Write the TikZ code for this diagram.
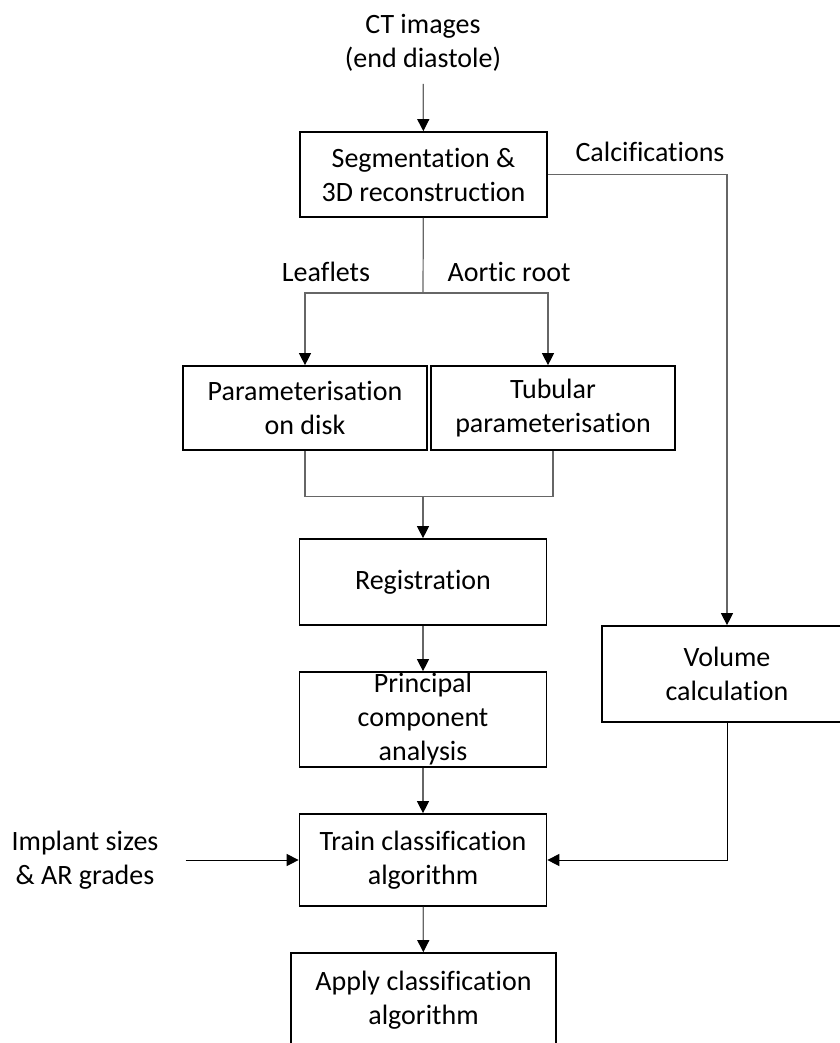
\documentclass[tikz,border=0pt]{standalone}
\usepackage{fontspec}
\setmainfont[Ligatures=NoCommon]{Carlito}
\usetikzlibrary{arrows.meta}

\begin{document}
\begin{tikzpicture}[x=1pt, y=-1pt,
        font=\fontsize{28}{34}\selectfont,
        box/.style={draw=black, line width=1.7pt, align=center, inner sep=0pt,
            minimum width=247pt, minimum height=85pt},
        lbl/.style={align=center, inner sep=0pt},
        line/.style={draw=black!60, line width=1.2pt},
        arr/.style={line, -{Triangle[length=12pt, width=12pt, color=black]}}]

        \useasboundingbox (0,0) rectangle (839,1043);

        \node[lbl] (ct) at (423,43) {CT images\\(end diastole)};
        \node[box] (seg) at (423.5,174.5) {Segmentation \&\\3D reconstruction};
        \node[lbl] (calc) at (650,152) {Calcifications};
        \node[lbl] (leaf) at (326,272) {Leaflets};
        \node[lbl] (root) at (509,272) {Aortic root};
        \node[box, minimum width=244pt, minimum height=84pt] (param) at (305,408) {Parameterisation\\on disk};
        \node[box, minimum width=244pt, minimum height=84pt] (tub) at (553,408) {Tubular\\parameterisation};
        \node[box, minimum height=86pt] (reg) at (423,582) {Registration};
        \node[box, minimum height=95pt] (pca) at (423,719.5) {Principal\\component\\analysis};
        \node[box, minimum width=250pt, minimum height=96pt] (vol) at (727,674) {Volume\\calculation};
        \node[box, minimum height=92pt] (train) at (423,860) {Train classification\\algorithm};
        \node[box, minimum width=265pt, minimum height=94pt] (apply) at (423.5,1000) {Apply classification\\algorithm};
        \node[lbl] (implant) at (85,860) {Implant sizes\\\& AR grades};

        \coordinate (split) at (423,293);
        \coordinate (merge) at (423,496);

        \draw[arr, shorten <=12pt] (ct) -- (seg);
        \draw[arr] (seg.east) -| (vol.north);
        \draw[line] (seg) -- (split);
        \draw[arr] (split) -| (param.north);
        \draw[arr] (split) -| ([xshift=-5pt]tub.north);
        \draw[line] (param.south) -- ++(0,46) -| (tub.south);
        \draw[arr] (merge) -- (reg);
        \draw[arr] (reg) -- (pca);
        \draw[arr] (pca) -- (train);
        \draw[arr, draw=black, line width=1pt] (vol.south) |- (train.east);
        \draw[arr, draw=black, line width=1pt, shorten <=27pt] (implant.east) -- (train.west);
        \draw[arr] (train) -- (apply);
    \end{tikzpicture}
\end{document}
